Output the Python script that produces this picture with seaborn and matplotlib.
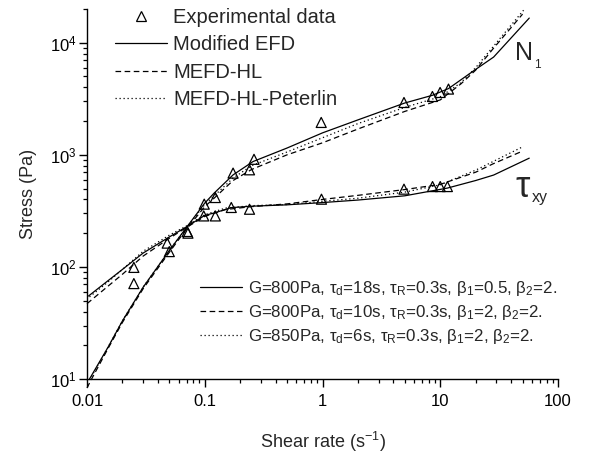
import numpy as np
import pandas as pd
import matplotlib
matplotlib.use("Agg")
import matplotlib.pyplot as plt
import seaborn as sns
from matplotlib.lines import Line2D
from matplotlib.ticker import NullFormatter

# ---------------- experimental data ----------------
exp_n1_rate = [0.025, 0.050, 0.072, 0.099, 0.123, 0.174, 0.24, 0.262, 0.975, 4.92, 8.58, 9.97, 11.75]
exp_n1_val = [71, 137, 200, 363, 416, 687, 735, 912, 1945, 2930, 3315, 3600, 3860]
exp_tau_rate = [0.025, 0.048, 0.071, 0.098, 0.123, 0.168, 0.24, 0.98, 4.92, 8.6, 10.0, 11.5]
exp_tau_val = [99, 163, 207, 285, 285, 339, 327, 402, 494, 521, 521, 521]

# ---------------- model curves ----------------
# Modified EFD (solid)
efd_n1_rate = [0.0105, 0.015, 0.02, 0.03, 0.05, 0.07, 0.1, 0.12, 0.174, 0.257, 0.5, 1, 2, 5, 8.6, 11.75, 19.4, 28.4, 57]
efd_n1_val = [10, 19, 33, 66, 140, 225, 371, 455, 662, 871, 1150, 1570, 2050, 2900, 3400, 3900, 5660, 7450, 16600]
efd_tau_rate = [0.0103, 0.015, 0.02, 0.03, 0.05, 0.07, 0.1, 0.123, 0.168, 0.25, 0.5, 1, 2, 5, 11.5, 20, 28.4, 57]
efd_tau_val = [55, 75, 95, 133, 185, 228, 288, 305, 338, 348, 358, 375, 395, 431, 505, 590, 660, 934]

# MEFD-HL (dashed)
hl_n1_rate = [0.01, 0.0106, 0.015, 0.02, 0.03, 0.05, 0.07, 0.1, 0.12, 0.174, 0.25, 0.5, 1, 2, 5, 10, 15, 20, 28, 50]
hl_n1_val = [8.3, 9.4, 18.5, 32, 64, 135, 218, 345, 410, 590, 740, 1000, 1280, 1700, 2440, 3090, 4300, 5700, 8800, 18000]
hl_tau_rate = [0.01, 0.015, 0.02, 0.03, 0.05, 0.07, 0.1, 0.15, 0.25, 0.5, 1, 2, 5, 10, 20, 28, 50]
hl_tau_val = [47, 67, 86, 125, 180, 225, 282, 325, 345, 365, 400, 435, 490, 545, 700, 830, 1080]

# MEFD-HL-Peterlin (dotted)
pt_n1_rate = [0.0105, 0.015, 0.02, 0.03, 0.05, 0.07, 0.1, 0.12, 0.174, 0.25, 0.5, 1, 2, 5, 10, 15, 20, 30, 51]
pt_n1_val = [9.8, 19, 33, 66, 140, 225, 360, 430, 620, 800, 1060, 1420, 1900, 2650, 3300, 4400, 6000, 10000, 19500]
pt_tau_rate = [0.0105, 0.015, 0.02, 0.03, 0.05, 0.07, 0.1, 0.15, 0.25, 0.5, 1, 2, 5, 10, 20, 28, 51]
pt_tau_val = [54, 73, 95, 138, 192, 232, 292, 335, 352, 360, 385, 410, 465, 540, 730, 870, 1190]

model_names = ["Modified EFD", "MEFD-HL", "MEFD-HL-Peterlin"]
param_labels = [
    "G=800Pa, τ$_{\\mathregular{d}}$=18s, τ$_{\\mathregular{R}}$=0.3s, β$_{\\mathregular{1}}$=0.5, β$_{\\mathregular{2}}$=2.",
    "G=800Pa, τ$_{\\mathregular{d}}$=10s, τ$_{\\mathregular{R}}$=0.3s, β$_{\\mathregular{1}}$=2, β$_{\\mathregular{2}}$=2.",
    "G=850Pa, τ$_{\\mathregular{d}}$=6s, τ$_{\\mathregular{R}}$=0.3s, β$_{\\mathregular{1}}$=2, β$_{\\mathregular{2}}$=2.",
]
x_ticks = [0.01, 0.1, 1, 10, 100]
x_tick_labels = ["0.01", "0.1", "1", "10", "100"]

# ---------------- build long table ----------------
rows = []
for name, (n1x, n1y, tx, ty) in zip(model_names, [
        (efd_n1_rate, efd_n1_val, efd_tau_rate, efd_tau_val),
        (hl_n1_rate, hl_n1_val, hl_tau_rate, hl_tau_val),
        (pt_n1_rate, pt_n1_val, pt_tau_rate, pt_tau_val)]):
    for i, (a, b) in enumerate(zip(n1x, n1y)):
        rows.append((name, "N1", i, a, b))
    for i, (a, b) in enumerate(zip(tx, ty)):
        rows.append((name, "tau", i, a, b))
df = pd.DataFrame(rows, columns=["model", "quantity", "order", "rate", "stress"])

sns.set_theme(style="ticks")
plt.rcParams["font.family"] = ["Liberation Sans", "DejaVu Sans"]
plt.rcParams["mathtext.fontset"] = "custom"
plt.rcParams["mathtext.rm"] = "Liberation Sans"
plt.rcParams["mathtext.it"] = "Liberation Sans:italic"
plt.rcParams["mathtext.bf"] = "Liberation Sans:bold"

LW = 0.9
dash_map = {"Modified EFD": "", "MEFD-HL": (4.5, 2.8), "MEFD-HL-Peterlin": (1.0, 2.2)}
ls_map = {"Modified EFD": "-", "MEFD-HL": (0, (4.5, 2.8)), "MEFD-HL-Peterlin": (0, (1.0, 2.2))}

fig = plt.figure(figsize=(5.92, 4.54), dpi=100)
ax = fig.add_axes([87 / 592, 1 - 379 / 454, (558 - 87) / 592, (379 - 9) / 454])

sns.lineplot(data=df, x="rate", y="stress", style="model", units="quantity",
             estimator=None, sort=False, dashes=dash_map, color="black",
             linewidth=LW, legend=False, ax=ax)
for ln in ax.get_lines():
    ln.set_clip_on(False)

sns.scatterplot(x=exp_n1_rate + exp_tau_rate, y=exp_n1_val + exp_tau_val, marker="^",
                s=52, facecolors="none", edgecolor="black", linewidth=0.9, ax=ax, zorder=3)

ax.set_xscale("log")
ax.set_yscale("log")
ax.set_xlim(0.01, 100)
ax.set_ylim(10, 2e4)
ax.set_xticks(x_ticks, x_tick_labels)
ax.xaxis.set_minor_formatter(NullFormatter())
ax.yaxis.set_minor_formatter(NullFormatter())
sns.despine(ax=ax)
for sp in ["left", "bottom"]:
    ax.spines[sp].set_linewidth(1.0)
    ax.spines[sp].set_color("black")
ax.tick_params(which="major", direction="out", length=5.5, width=1.0, colors="black", labelsize=12)
ax.tick_params(which="minor", direction="out", length=3, width=0.9, colors="black")
ax.tick_params(axis="x", pad=5)
ax.tick_params(axis="y", pad=2)

ax.set_xlabel("Shear rate (s$^{\\mathregular{-1}}$)", fontsize=13, labelpad=15)
ax.set_ylabel("Stress (Pa)", fontsize=13, labelpad=9)

# curve labels
ax.text(0.9087, 0.862, "N", transform=ax.transAxes, fontsize=18, va="baseline", ha="left")
ax.text(0.9490, 0.8405, "1", transform=ax.transAxes, fontsize=8.5, va="baseline", ha="left")
ax.text(0.910, 0.492, "τ", transform=ax.transAxes, fontsize=26, va="baseline", ha="left")
ax.text(0.944, 0.478, "xy", transform=ax.transAxes, fontsize=11.5, va="baseline", ha="left")

# legend 1
h1 = [Line2D([], [], marker="^", ls="none", mfc="none", mec="black", ms=7.4, mew=0.9)]
h1 += [Line2D([], [], color="black", lw=LW, ls=ls_map[m]) for m in model_names]
leg1 = ax.legend(h1, ["Experimental data"] + model_names, loc="upper left",
                 bbox_to_anchor=(115 / 592, 1 - 8 / 454), bbox_transform=fig.transFigure,
                 frameon=False, fontsize=14.5, handlelength=2.6, handletextpad=0.3,
                 labelspacing=0.42, borderpad=0, borderaxespad=0)
ax.add_artist(leg1)

# legend 2
h2 = [Line2D([], [], color="black", lw=LW, ls=ls_map[m]) for m in model_names]
ax.legend(h2, param_labels, loc="upper left",
          bbox_to_anchor=(200 / 592, 1 - 279 / 454), bbox_transform=fig.transFigure,
          frameon=False, fontsize=12.2, handlelength=2.45, handletextpad=0.36,
          labelspacing=0.3, borderpad=0, borderaxespad=0)

fig.savefig("out.png", dpi=100)
